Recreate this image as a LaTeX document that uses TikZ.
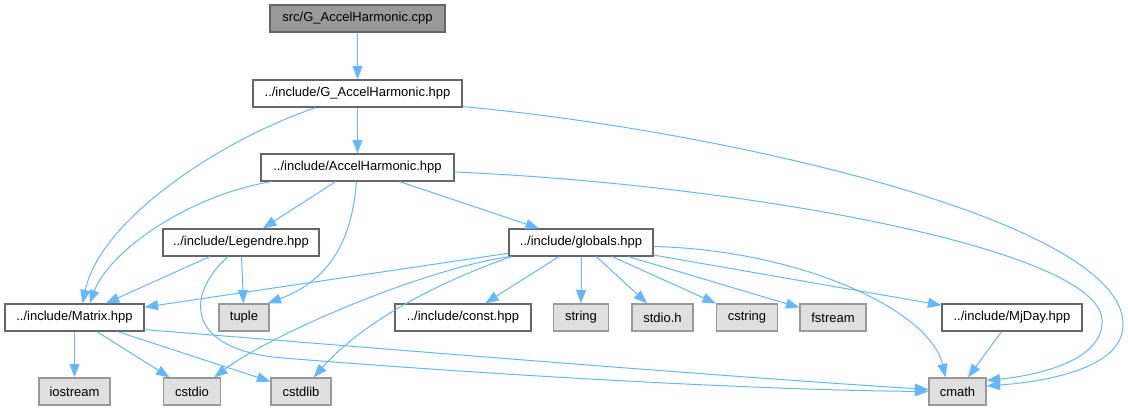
\documentclass[tikz,border=0pt]{standalone}
\usepackage{fontspec}
\setmainfont{Liberation Sans}
\usepackage{xcolor}
\usepackage{tikz}
\usetikzlibrary{arrows.meta}

\definecolor{edgeblue}{HTML}{63B8FF}
\definecolor{boxgray}{HTML}{666666}
\definecolor{sysgray}{HTML}{999999}
\definecolor{sysfill}{HTML}{E0E0E0}
\definecolor{rootfill}{HTML}{999999}

\begin{document}
\begin{tikzpicture}[x=1pt, y=-1pt,
    filebox/.style={draw=boxgray, fill=white, line width=1.2pt, minimum height=27pt, inner sep=0pt, font=\fontsize{13}{15}\selectfont},
    sysbox/.style={filebox, draw=sysgray, fill=sysfill},
    rootbox/.style={filebox, fill=rootfill},
    dep/.style={draw=edgeblue, line width=1pt, -{Triangle[length=13.5pt, width=10pt]}}]
          \useasboundingbox (0,0) rectangle (1128,411);

          \node[rootbox, minimum width=175pt] (src) at (357.5,18.5) {src/G\_AccelHarmonic.cpp};
          \node[filebox, minimum width=209pt] (gah) at (357.5,93.5) {../include/G\_AccelHarmonic.hpp};
          \node[filebox, minimum width=193pt] (ah) at (357.5,167.5) {../include/AccelHarmonic.hpp};
          \node[filebox, minimum width=156pt] (legendre) at (241,242.5) {../include/Legendre.hpp};
          \node[filebox, minimum width=144pt] (globals) at (581,242.5) {../include/globals.hpp};
          \node[filebox, minimum width=139pt] (matrix) at (74.5,317.5) {../include/Matrix.hpp};
          \node[sysbox, minimum width=50pt] (tuple) at (244,317.5) {tuple};
          \node[filebox, minimum width=136pt] (const) at (463,317.5) {../include/const.hpp};
          \node[sysbox, minimum width=55pt] (string) at (581,317.5) {string};
          \node[sysbox, minimum width=61pt] (stdioh) at (662.5,317.5) {stdio.h};
          \node[sysbox, minimum width=61pt] (cstring) at (747,317.5) {cstring};
          \node[sysbox, minimum width=66pt] (fstream) at (833,317.5) {fstream};
          \node[filebox, minimum width=140pt] (mjday) at (1012,317.5) {../include/MjDay.hpp};
          \node[sysbox, minimum width=71pt] (iostream) at (74.5,391.5) {iostream};
          \node[sysbox, minimum width=57pt] (cstdio) at (192,391.5) {cstdio};
          \node[sysbox, minimum width=60pt] (cstdlib) at (301,391.5) {cstdlib};
          \node[sysbox, minimum width=57pt] (cmath) at (957.5,391.5) {cmath};

          \draw[dep] (src) -- (gah);
          \draw[dep] (gah) -- (ah);
          \draw[dep] (gah) .. controls (220,140) and (100,220) .. ([xshift=8pt]matrix.north);
          \draw[dep] ([yshift=1pt]gah.south east) .. controls (720,130) and (1120,220) .. (1123,323)
                     .. controls (1125,370) and (1040,382) .. ([yshift=5.5pt]cmath.east);
          \draw[dep] ([yshift=-4.5pt]ah.east) .. controls (750,185) and (1100,250) .. (1102,320)
                     .. controls (1104,360) and (1040,375) .. ([yshift=11pt]cmath.east);
          \draw[dep] (ah) .. controls (190,195) and (110,250) .. ([xshift=15pt]matrix.north);
          \draw[dep] (ah) -- (legendre);
          \draw[dep] (ah) .. controls (352,240) and (330,280) .. ([xshift=-2pt]tuple.north east);
          \draw[dep] (ah) -- (globals);

          \draw[dep] (legendre) -- (matrix);
          \draw[dep] (legendre) -- (tuple);
          \draw[dep] ([xshift=-13pt]legendre.south) .. controls (185,295) and (185,350) .. (283,358)
                     .. controls (480,374) and (750,390) .. (cmath.west);

          \draw[dep] (matrix) -- (iostream);
          \draw[dep] (matrix) -- (cstdio);
          \draw[dep] (matrix) -- (cstdlib);
          \draw[dep] ([yshift=2pt]matrix.south east) .. controls (400,350) and (700,375) .. ([yshift=2pt]cmath.west);

          \draw[dep] (globals) -- (matrix);
          \draw[dep] ([xshift=1pt]globals.south west) .. controls (420,270) and (270,335) .. ([xshift=-7pt]cstdio.north east);
          \draw[dep] ([xshift=3pt]globals.south west) .. controls (430,285) and (360,325) .. ([xshift=-18pt]cstdlib.north east);
          \draw[dep] (globals) -- (const);
          \draw[dep] (globals) -- (string);
          \draw[dep] (globals) -- (stdioh);
          \draw[dep] (globals) -- (cstring);
          \draw[dep] (globals) -- (fstream);
          \draw[dep] (globals) -- (mjday);
          \draw[dep] ([yshift=-4pt]globals.east) .. controls (800,250) and (930,310) .. ([xshift=-12pt]cmath.north);

          \draw[dep] (mjday) -- (cmath);
        \end{tikzpicture}
\end{document}
